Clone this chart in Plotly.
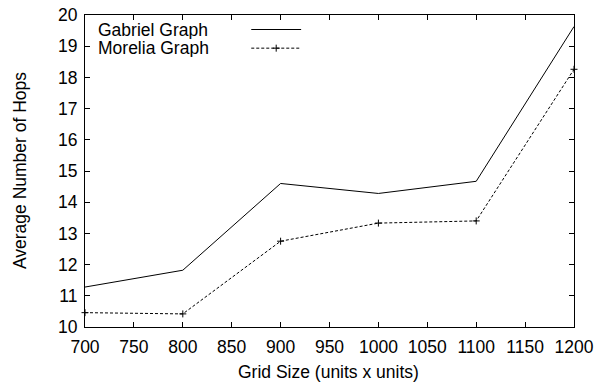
import plotly.graph_objects as go

grid_sizes = [700, 800, 900, 1000, 1100, 1200]
gabriel_hops = [11.28, 11.82, 14.60, 14.28, 14.67, 19.63]
morelia_hops = [10.46, 10.42, 12.75, 13.33, 13.40, 18.26]
series_names = ["Gabriel Graph", "Morelia Graph"]
x_ticks = [700, 750, 800, 850, 900, 950, 1000, 1050, 1100, 1150, 1200]
y_ticks = [10, 11, 12, 13, 14, 15, 16, 17, 18, 19, 20]
x_title = "Grid Size (units x units)"
y_title = "Average Number of Hops"

FONT = "Liberation Sans, Arial, Helvetica, sans-serif"
FS = 17.5

fig = go.Figure()
fig.add_trace(go.Scatter(
    x=grid_sizes, y=gabriel_hops, mode="lines", name=series_names[0],
    line=dict(color="black", width=1), showlegend=False))
fig.add_trace(go.Scatter(
    x=grid_sizes, y=morelia_hops, mode="lines+markers", name=series_names[1],
    line=dict(color="black", width=1, dash="3px,2px"),
    marker=dict(symbol="cross-thin", size=5, line=dict(color="black", width=1)),
    showlegend=False, cliponaxis=False))

# legend sample marker on an overlay axis spanning the plot area
leg_x0, leg_x1 = 0.340, 0.442
leg_y = [0.9535, 0.8937]
fig.add_trace(go.Scatter(
    x=[(leg_x0 + leg_x1) / 2], y=[leg_y[1]], xaxis="x2", yaxis="y2", mode="markers",
    marker=dict(symbol="cross-thin", size=5, line=dict(color="black", width=1)),
    showlegend=False, hoverinfo="skip"))

shapes = [
    dict(type="line", xref="paper", yref="paper", x0=leg_x0, x1=leg_x1, y0=leg_y[0], y1=leg_y[0],
         line=dict(color="black", width=1)),
    dict(type="line", xref="paper", yref="paper", x0=leg_x0, x1=leg_x1, y0=leg_y[1], y1=leg_y[1],
         line=dict(color="black", width=1, dash="3px,2px")),
]
annotations = [
    dict(text=series_names[i], xref="paper", yref="paper", x=0.0235, y=leg_y[i],
         xanchor="left", yanchor="middle", showarrow=False, height=18, valign="middle",
         font=dict(family=FONT, size=FS, color="black"))
    for i in range(2)
]
annotations.append(dict(text=x_title, xref="paper", yref="paper", x=0.497, y=-0.1435,
                        xanchor="center", yanchor="middle", showarrow=False,
                        font=dict(family=FONT, size=FS, color="black")))
annotations.append(dict(text=y_title, xref="paper", yref="paper", x=-0.1328, y=0.5,
                        xanchor="center", yanchor="middle", showarrow=False, textangle=-90,
                        font=dict(family=FONT, size=FS, color="black")))

axis_common = dict(
    showline=True, linecolor="black", linewidth=1, mirror="ticks",
    ticks="inside", ticklen=5, tickwidth=1, tickcolor="black",
    showgrid=False, zeroline=False, automargin=False,
    tickfont=dict(family=FONT, size=FS, color="black"),
)

fig.update_layout(
    width=597, height=384,
    margin=dict(l=84.5, r=23, t=14.5, b=57.3),
    paper_bgcolor="white", plot_bgcolor="white",
    shapes=shapes, annotations=annotations,
    xaxis=dict(range=[700, 1200], tickvals=x_ticks, ticktext=[str(v) for v in x_ticks],
               ticklabelstandoff=4, **axis_common),
    yaxis=dict(range=[10, 20], tickvals=y_ticks, ticktext=[str(v) for v in y_ticks],
               ticklabelstandoff=3, **axis_common),
    xaxis2=dict(overlaying="x", range=[0, 1], visible=False),
    yaxis2=dict(overlaying="y", range=[0, 1], visible=False),
)

fig.write_html("out.html", config={"displayModeBar": False},
               post_script="document.body.style.margin='0';")
